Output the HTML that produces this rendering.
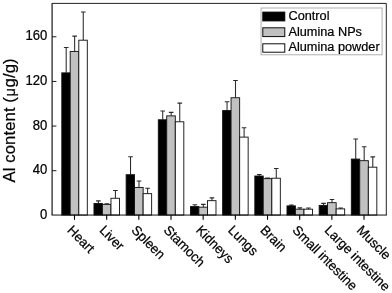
<!DOCTYPE html><html><head><meta charset="utf-8"><title>Al content</title><style>html,body{margin:0;padding:0;background:#fff}svg{display:block}text{stroke:#000;stroke-width:0.22px;font-family:"Liberation Sans",Arial,sans-serif;fill:#000}</style></head><body>
<svg width="392" height="293" viewBox="0 0 392 293">
<rect width="392" height="293" fill="#fff"/>
<path d="M66.20 72.87V47.52M63.90 47.52H68.50" stroke="#2a2a2a" stroke-width="1.05" fill="none"/>
<rect x="61.80" y="72.87" width="8.40" height="142.18" fill="#000" stroke="#111" stroke-width="0.92"/>
<path d="M74.65 51.43V36.10M72.35 36.10H76.95" stroke="#2a2a2a" stroke-width="1.05" fill="none"/>
<rect x="70.20" y="51.43" width="8.60" height="163.62" fill="#c1c1c1" stroke="#111" stroke-width="0.92"/>
<path d="M83.25 40.20V12.00M80.95 12.00H85.55" stroke="#2a2a2a" stroke-width="1.05" fill="none"/>
<rect x="78.80" y="40.20" width="8.50" height="174.85" fill="#fff" stroke="#111" stroke-width="0.92"/>
<path d="M98.37 203.47V200.87M96.07 200.87H100.67" stroke="#2a2a2a" stroke-width="1.05" fill="none"/>
<rect x="93.97" y="203.47" width="8.40" height="11.58" fill="#000" stroke="#111" stroke-width="0.92"/>
<path d="M106.82 204.37V203.67M104.52 203.67H109.12" stroke="#2a2a2a" stroke-width="1.05" fill="none"/>
<rect x="102.37" y="204.37" width="8.60" height="10.68" fill="#c1c1c1" stroke="#111" stroke-width="0.92"/>
<path d="M115.42 198.26V190.44M113.12 190.44H117.72" stroke="#2a2a2a" stroke-width="1.05" fill="none"/>
<rect x="110.97" y="198.26" width="8.50" height="16.79" fill="#fff" stroke="#111" stroke-width="0.92"/>
<path d="M130.54 174.71V156.77M128.24 156.77H132.84" stroke="#2a2a2a" stroke-width="1.05" fill="none"/>
<rect x="126.14" y="174.71" width="8.40" height="40.34" fill="#000" stroke="#111" stroke-width="0.92"/>
<path d="M138.99 187.44V181.02M136.69 181.02H141.29" stroke="#2a2a2a" stroke-width="1.05" fill="none"/>
<rect x="134.54" y="187.44" width="8.60" height="27.61" fill="#c1c1c1" stroke="#111" stroke-width="0.92"/>
<path d="M147.59 193.65V188.34M145.29 188.34H149.89" stroke="#2a2a2a" stroke-width="1.05" fill="none"/>
<rect x="143.14" y="193.65" width="8.50" height="21.40" fill="#fff" stroke="#111" stroke-width="0.92"/>
<path d="M162.71 119.78V111.06M160.41 111.06H165.01" stroke="#2a2a2a" stroke-width="1.05" fill="none"/>
<rect x="158.31" y="119.78" width="8.40" height="95.27" fill="#000" stroke="#111" stroke-width="0.92"/>
<path d="M171.16 115.87V112.37M168.86 112.37H173.46" stroke="#2a2a2a" stroke-width="1.05" fill="none"/>
<rect x="166.71" y="115.87" width="8.60" height="99.18" fill="#c1c1c1" stroke="#111" stroke-width="0.92"/>
<path d="M179.76 121.79V103.14M177.46 103.14H182.06" stroke="#2a2a2a" stroke-width="1.05" fill="none"/>
<rect x="175.31" y="121.79" width="8.50" height="93.26" fill="#fff" stroke="#111" stroke-width="0.92"/>
<path d="M194.88 206.58V204.78M192.58 204.78H197.18" stroke="#2a2a2a" stroke-width="1.05" fill="none"/>
<rect x="190.48" y="206.58" width="8.40" height="8.47" fill="#000" stroke="#111" stroke-width="0.92"/>
<path d="M203.33 207.18V204.37M201.03 204.37H205.63" stroke="#2a2a2a" stroke-width="1.05" fill="none"/>
<rect x="198.88" y="207.18" width="8.60" height="7.87" fill="#c1c1c1" stroke="#111" stroke-width="0.92"/>
<path d="M211.93 200.67V197.86M209.63 197.86H214.23" stroke="#2a2a2a" stroke-width="1.05" fill="none"/>
<rect x="207.48" y="200.67" width="8.50" height="14.38" fill="#fff" stroke="#111" stroke-width="0.92"/>
<path d="M227.05 110.56V101.74M224.75 101.74H229.35" stroke="#2a2a2a" stroke-width="1.05" fill="none"/>
<rect x="222.65" y="110.56" width="8.40" height="104.49" fill="#000" stroke="#111" stroke-width="0.92"/>
<path d="M235.50 97.73V80.49M233.20 80.49H237.80" stroke="#2a2a2a" stroke-width="1.05" fill="none"/>
<rect x="231.05" y="97.73" width="8.60" height="117.32" fill="#c1c1c1" stroke="#111" stroke-width="0.92"/>
<path d="M244.10 137.12V127.70M241.80 127.70H246.40" stroke="#2a2a2a" stroke-width="1.05" fill="none"/>
<rect x="239.65" y="137.12" width="8.50" height="77.93" fill="#fff" stroke="#111" stroke-width="0.92"/>
<path d="M259.22 176.01V174.51M256.92 174.51H261.52" stroke="#2a2a2a" stroke-width="1.05" fill="none"/>
<rect x="254.82" y="176.01" width="8.40" height="39.04" fill="#000" stroke="#111" stroke-width="0.92"/>
<path d="M267.67 178.62V178.01M265.37 178.01H269.97" stroke="#2a2a2a" stroke-width="1.05" fill="none"/>
<rect x="263.22" y="178.62" width="8.60" height="36.43" fill="#c1c1c1" stroke="#111" stroke-width="0.92"/>
<path d="M276.27 178.22V168.49M273.97 168.49H278.57" stroke="#2a2a2a" stroke-width="1.05" fill="none"/>
<rect x="271.82" y="178.22" width="8.50" height="36.83" fill="#fff" stroke="#111" stroke-width="0.92"/>
<path d="M291.39 205.88V204.98M289.09 204.98H293.69" stroke="#2a2a2a" stroke-width="1.05" fill="none"/>
<rect x="286.99" y="205.88" width="8.40" height="9.17" fill="#000" stroke="#111" stroke-width="0.92"/>
<path d="M299.84 209.19V207.88M297.54 207.88H302.14" stroke="#2a2a2a" stroke-width="1.05" fill="none"/>
<rect x="295.39" y="209.19" width="8.60" height="5.86" fill="#c1c1c1" stroke="#111" stroke-width="0.92"/>
<path d="M308.44 209.19V208.08M306.14 208.08H310.74" stroke="#2a2a2a" stroke-width="1.05" fill="none"/>
<rect x="303.99" y="209.19" width="8.50" height="5.86" fill="#fff" stroke="#111" stroke-width="0.92"/>
<path d="M323.56 205.38V203.37M321.26 203.37H325.86" stroke="#2a2a2a" stroke-width="1.05" fill="none"/>
<rect x="319.16" y="205.38" width="8.40" height="9.67" fill="#000" stroke="#111" stroke-width="0.92"/>
<path d="M332.01 202.67V199.56M329.71 199.56H334.31" stroke="#2a2a2a" stroke-width="1.05" fill="none"/>
<rect x="327.56" y="202.67" width="8.60" height="12.38" fill="#c1c1c1" stroke="#111" stroke-width="0.92"/>
<path d="M340.61 208.89V207.98M338.31 207.98H342.91" stroke="#2a2a2a" stroke-width="1.05" fill="none"/>
<rect x="336.16" y="208.89" width="8.50" height="6.16" fill="#fff" stroke="#111" stroke-width="0.92"/>
<path d="M355.73 159.07V139.03M353.43 139.03H358.03" stroke="#2a2a2a" stroke-width="1.05" fill="none"/>
<rect x="351.33" y="159.07" width="8.40" height="55.98" fill="#000" stroke="#111" stroke-width="0.92"/>
<path d="M364.18 160.68V146.74M361.88 146.74H366.48" stroke="#2a2a2a" stroke-width="1.05" fill="none"/>
<rect x="359.73" y="160.68" width="8.60" height="54.37" fill="#c1c1c1" stroke="#111" stroke-width="0.92"/>
<path d="M372.78 167.19V156.87M370.48 156.87H375.08" stroke="#2a2a2a" stroke-width="1.05" fill="none"/>
<rect x="368.33" y="167.19" width="8.50" height="47.86" fill="#fff" stroke="#111" stroke-width="0.92"/>
<path d="M52.1 3.4H386.3V215.05" fill="none" stroke="#222" stroke-width="1.0" stroke-linejoin="miter"/>
<path d="M52.1 215.05V2.9" fill="none" stroke="#2a2a2a" stroke-width="1.3"/>
<path d="M51.550000000000004 215.05H386.85" fill="none" stroke="#111" stroke-width="1.0"/>
<text transform="translate(47.4 218.65) scale(1 1.05)" font-size="13.1" text-anchor="end">0</text>
<line x1="52.1" y1="170.7" x2="56.4" y2="170.7" stroke="#000" stroke-width="0.9"/>
<text transform="translate(47.4 174.30) scale(1 1.05)" font-size="13.1" text-anchor="end">40</text>
<line x1="52.1" y1="126.05" x2="56.4" y2="126.05" stroke="#000" stroke-width="0.9"/>
<text transform="translate(47.4 129.65) scale(1 1.05)" font-size="13.1" text-anchor="end">80</text>
<line x1="52.1" y1="81.45" x2="56.4" y2="81.45" stroke="#000" stroke-width="0.9"/>
<text transform="translate(47.4 85.05) scale(1 1.05)" font-size="13.1" text-anchor="end">120</text>
<line x1="52.1" y1="36.75" x2="56.4" y2="36.75" stroke="#000" stroke-width="0.9"/>
<text transform="translate(47.4 40.35) scale(1 1.05)" font-size="13.1" text-anchor="end">160</text>
<line x1="74.50" y1="215.05" x2="74.50" y2="219.8" stroke="#000" stroke-width="1.1"/>
<text transform="translate(66.50 231.10) rotate(45) scale(1 1.03)" font-size="13.1">Heart</text>
<line x1="106.67" y1="215.05" x2="106.67" y2="219.8" stroke="#000" stroke-width="1.1"/>
<text transform="translate(98.67 231.10) rotate(45) scale(1 1.03)" font-size="13.1">Liver</text>
<line x1="138.84" y1="215.05" x2="138.84" y2="219.8" stroke="#000" stroke-width="1.1"/>
<text transform="translate(130.84 231.10) rotate(45) scale(1 1.03)" font-size="13.1">Spleen</text>
<line x1="171.01" y1="215.05" x2="171.01" y2="219.8" stroke="#000" stroke-width="1.1"/>
<text transform="translate(163.01 231.10) rotate(45) scale(1 1.03)" font-size="13.1">Stamoch</text>
<line x1="203.18" y1="215.05" x2="203.18" y2="219.8" stroke="#000" stroke-width="1.1"/>
<text transform="translate(195.18 231.10) rotate(45) scale(1 1.03)" font-size="13.1">Kidneys</text>
<line x1="235.35" y1="215.05" x2="235.35" y2="219.8" stroke="#000" stroke-width="1.1"/>
<text transform="translate(227.35 231.10) rotate(45) scale(1 1.03)" font-size="13.1">Lungs</text>
<line x1="267.52" y1="215.05" x2="267.52" y2="219.8" stroke="#000" stroke-width="1.1"/>
<text transform="translate(259.52 231.10) rotate(45) scale(1 1.03)" font-size="13.1">Brain</text>
<line x1="299.69" y1="215.05" x2="299.69" y2="219.8" stroke="#000" stroke-width="1.1"/>
<text transform="translate(291.69 231.10) rotate(45) scale(1 1.03)" font-size="13.1">Small intestine</text>
<line x1="331.86" y1="215.05" x2="331.86" y2="219.8" stroke="#000" stroke-width="1.1"/>
<text transform="translate(323.86 231.10) rotate(45) scale(1 1.03)" font-size="13.1">Large intestine</text>
<line x1="364.03" y1="215.05" x2="364.03" y2="219.8" stroke="#000" stroke-width="1.1"/>
<text transform="translate(356.03 231.10) rotate(45) scale(1 1.03)" font-size="13.1">Muscle</text>
<text transform="translate(15.3 182.4) rotate(-90) scale(1 1.03)" font-size="16.65" letter-spacing="0.1">Al content (<tspan font-size="14.6" dx="0.55">μ</tspan><tspan dx="0.55">g/g)</tspan></text>
<rect x="261.05" y="8.0" width="121.05" height="46.8" fill="#fff" stroke="#a6a6a6" stroke-width="0.9"/>
<rect x="262.8" y="12.1" width="22.0" height="8.8" fill="#000" stroke="#000" stroke-width="0.95"/>
<text transform="translate(288.5 19.85) scale(1 1.04)" font-size="12.72">Control</text>
<rect x="262.8" y="27.8" width="22.0" height="8.8" fill="#c1c1c1" stroke="#000" stroke-width="0.95"/>
<text transform="translate(288.5 35.55) scale(1 1.04)" font-size="12.72">Alumina NPs</text>
<rect x="262.8" y="43.8" width="22.0" height="8.4" fill="#fff" stroke="#000" stroke-width="0.95"/>
<text transform="translate(288.5 50.6) scale(1 1.04)" font-size="12.72">Alumina powder</text>
</svg></body></html>
